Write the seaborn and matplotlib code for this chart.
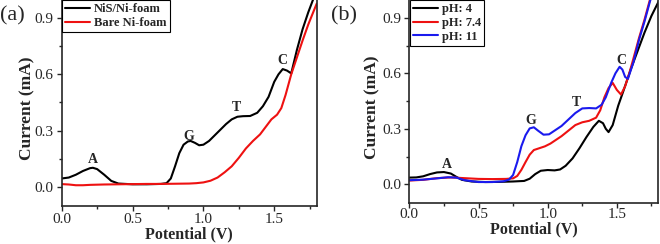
import matplotlib
matplotlib.use("Agg")
import matplotlib.pyplot as plt
from matplotlib.ticker import MultipleLocator
import numpy as np
import pandas as pd
import seaborn as sns

# %% data
# (a) NiS/Ni-foam vs bare Ni-foam
a_nis_x = [0.00, 0.05, 0.10, 0.15, 0.20, 0.22, 0.25, 0.30, 0.35, 0.40, 0.50, 0.60,
           0.70, 0.74, 0.77, 0.80, 0.83, 0.86, 0.89, 0.91, 0.94, 0.97, 1.00, 1.04,
           1.08, 1.12, 1.16, 1.20, 1.24, 1.28, 1.33, 1.38, 1.42, 1.46, 1.50, 1.53,
           1.56, 1.59, 1.62, 1.66, 1.70, 1.74, 1.78, 1.80]
a_nis_y = [0.045, 0.05, 0.065, 0.085, 0.10, 0.102, 0.095, 0.065, 0.032, 0.018, 0.014, 0.014,
           0.016, 0.02, 0.045, 0.11, 0.18, 0.225, 0.242, 0.245, 0.235, 0.222, 0.225, 0.245,
           0.275, 0.305, 0.335, 0.36, 0.374, 0.377, 0.378, 0.395, 0.43, 0.48, 0.56, 0.60,
           0.628, 0.62, 0.605, 0.73, 0.84, 0.93, 1.01, 1.05]
a_bare_x = [0.00, 0.05, 0.10, 0.15, 0.20, 0.30, 0.40, 0.50, 0.60, 0.70, 0.80, 0.90,
            0.95, 1.00, 1.05, 1.10, 1.15, 1.20, 1.25, 1.30, 1.35, 1.40, 1.45, 1.48,
            1.52, 1.55, 1.58, 1.62, 1.66, 1.70, 1.74, 1.78, 1.80]
a_bare_y = [0.015, 0.013, 0.009, 0.009, 0.011, 0.013, 0.014, 0.015, 0.016, 0.016, 0.017, 0.018,
            0.02, 0.024, 0.033, 0.05, 0.078, 0.11, 0.155, 0.205, 0.245, 0.28, 0.33, 0.36,
            0.385, 0.42, 0.49, 0.60, 0.69, 0.78, 0.865, 0.94, 0.977]

# (b) pH series
b_ph4_x = [0.00, 0.05, 0.10, 0.15, 0.20, 0.25, 0.30, 0.34, 0.38, 0.45, 0.55, 0.65,
           0.75, 0.83, 0.87, 0.91, 0.95, 1.00, 1.05, 1.09, 1.13, 1.18, 1.23, 1.28,
           1.33, 1.37, 1.40, 1.42, 1.44, 1.47, 1.51, 1.55, 1.60, 1.65, 1.70, 1.75, 1.80]
b_ph4_y = [0.036, 0.037, 0.043, 0.055, 0.064, 0.066, 0.058, 0.04, 0.024, 0.015, 0.012, 0.013,
           0.015, 0.018, 0.03, 0.055, 0.073, 0.077, 0.075, 0.08, 0.10, 0.14, 0.195, 0.255,
           0.31, 0.343, 0.33, 0.30, 0.282, 0.32, 0.425, 0.51, 0.62, 0.72, 0.82, 0.91, 0.985]
b_ph74_x = [0.00, 0.10, 0.20, 0.30, 0.40, 0.50, 0.60, 0.70, 0.75, 0.78, 0.81, 0.84,
            0.87, 0.90, 0.94, 0.98, 1.02, 1.06, 1.10, 1.15, 1.20, 1.25, 1.30, 1.35,
            1.38, 1.41, 1.44, 1.47, 1.50, 1.53, 1.56, 1.59, 1.62, 1.66, 1.70, 1.74, 1.78]
b_ph74_y = [0.02, 0.024, 0.033, 0.037, 0.033, 0.029, 0.028, 0.029, 0.032, 0.045, 0.078, 0.12,
            0.16, 0.185, 0.195, 0.205, 0.22, 0.24, 0.26, 0.29, 0.32, 0.335, 0.343, 0.36,
            0.40, 0.47, 0.52, 0.548, 0.51, 0.485, 0.53, 0.60, 0.68, 0.79, 0.89, 1.0, 1.08]
b_ph11_x = [0.00, 0.10, 0.20, 0.28, 0.34, 0.40, 0.50, 0.60, 0.68, 0.72, 0.75, 0.78,
            0.81, 0.84, 0.87, 0.90, 0.93, 0.97, 1.01, 1.05, 1.10, 1.15, 1.20, 1.25,
            1.30, 1.35, 1.39, 1.42, 1.46, 1.49, 1.52, 1.54, 1.56, 1.58, 1.62, 1.66,
            1.70, 1.74, 1.77]
b_ph11_y = [0.022, 0.025, 0.032, 0.038, 0.036, 0.022, 0.012, 0.012, 0.016, 0.025, 0.05, 0.12,
            0.206, 0.265, 0.302, 0.308, 0.29, 0.268, 0.27, 0.29, 0.315, 0.35, 0.385, 0.41,
            0.412, 0.41, 0.43, 0.47, 0.55, 0.60, 0.635, 0.62, 0.58, 0.57, 0.66, 0.78,
            0.88, 0.99, 1.06]

# peak letters: (text, x, y)
a_peaks = [("A", 0.22, 0.145), ("G", 0.895, 0.27), ("T", 1.23, 0.422), ("C", 1.555, 0.673)]
b_peaks = [("A", 0.272, 0.105), ("G", 0.88, 0.347), ("T", 1.21, 0.443), ("C", 1.535, 0.668)]

# %% style
sns.set_style("ticks")
plt.rcParams["font.family"] = ["Liberation Serif", "DejaVu Serif"]
plt.rcParams["xtick.direction"] = "out"
plt.rcParams["ytick.direction"] = "out"

fig = plt.figure(figsize=(6.6, 2.44), dpi=100)
ax_a = fig.add_axes([0.0935, 0.157, 0.3864, 0.846])
ax_b = fig.add_axes([0.6202, 0.169, 0.3773, 0.834])

LW = 1.5
sns.lineplot(x=a_nis_x, y=a_nis_y, ax=ax_a, color="black", lw=LW, sort=False,
             label="NiS/Ni-foam")
sns.lineplot(x=a_bare_x, y=a_bare_y, ax=ax_a, color="#ee1111", lw=LW, sort=False,
             label="Bare Ni-foam")

sns.lineplot(x=b_ph4_x, y=b_ph4_y, ax=ax_b, color="black", lw=LW, sort=False,
             label="pH: 4")
sns.lineplot(x=b_ph74_x, y=b_ph74_y, ax=ax_b, color="#ee1111", lw=LW, sort=False,
             label="pH: 7.4")
sns.lineplot(x=b_ph11_x, y=b_ph11_y, ax=ax_b, color="#1a1aee", lw=LW, sort=False,
             label="pH: 11")

# per panel: axes, peak labels, ylabel x, xlabel y, x tick pad
panels = [(ax_a, a_peaks, -0.105, -0.098, 1.5),
          (ax_b, b_peaks, -0.118, -0.092, 0.5)]
for ax, peaks, ylab_x, xlab_y, xpad in panels:
    ax.set_xlim(0, 1.8)
    ax.set_ylim(-0.1, 1.0)
    ax.xaxis.set_major_locator(MultipleLocator(0.5))
    ax.xaxis.set_minor_locator(MultipleLocator(0.25))
    ax.yaxis.set_major_locator(MultipleLocator(0.3))
    ax.yaxis.set_minor_locator(MultipleLocator(0.15))
    ax.tick_params(which="major", length=3.5, width=1, labelsize=11, pad=2.5)
    ax.tick_params(which="minor", length=2, width=1)
    ax.tick_params(axis="x", which="major", pad=xpad)
    ax.xaxis.set_major_formatter(plt.FormatStrFormatter("%.1f"))
    ax.yaxis.set_major_formatter(plt.FormatStrFormatter("%.1f"))
    for sp in ax.spines.values():
        sp.set_visible(True)
        sp.set_linewidth(1.2)
    ax.set_xlabel("Potential (V)", fontsize=11.5, fontweight="bold")
    ax.xaxis.set_label_coords(0.5, xlab_y)
    ax.set_ylabel("Current (mA)", fontsize=12.5, fontweight="bold")
    ax.yaxis.set_label_coords(ylab_x, 0.47)
    for txt, px, py in peaks:
        ax.text(px, py, txt, ha="center", va="center", fontsize=10, fontweight="bold")
    leg = ax.legend(loc="upper left", frameon=True, fancybox=False, framealpha=1,
                    edgecolor="black", borderpad=0.25, labelspacing=0.15,
                    handletextpad=0.3, handlelength=2.0, borderaxespad=0.05,
                    prop={"weight": "bold", "size": 9})
    leg.get_frame().set_linewidth(0.8)

fig.text(12 / 660, 1 - 16 / 244, "(a)", fontsize=16, ha="center", va="center")
fig.text(344 / 660, 1 - 16 / 244, "(b)", fontsize=16, ha="center", va="center")

fig.savefig("out.png", dpi=100)
